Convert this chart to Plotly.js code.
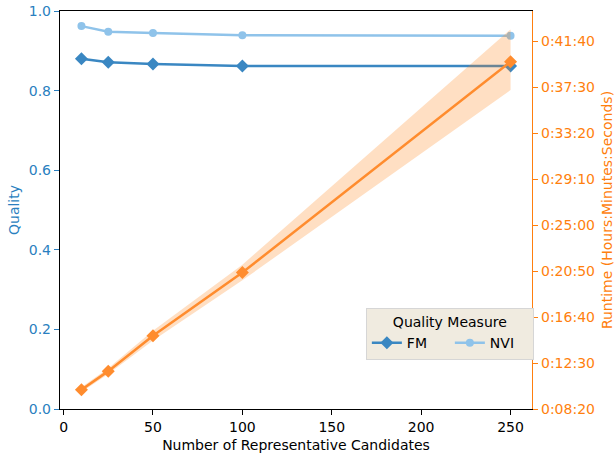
<!DOCTYPE html>
<html><head><meta charset="utf-8">
<script src="https://cdn.plot.ly/plotly-3.0.1.min.js"></script>
<style>body{margin:0}#c{width:615px;height:459px}</style>
</head><body><div id="c"></div>
<script>
const candidates = [10, 25, 50, 100, 250];
const fmQuality = [0.880, 0.871, 0.867, 0.862, 0.862];
const nviQuality = [0.962, 0.948, 0.945, 0.939, 0.938];
const runtimeSec = [605, 706, 898, 1242, 2389];
const runtimeUpper = [618, 722, 925, 1285, 2565];
const runtimeLower = [592, 690, 872, 1200, 2235];
const runtimeTickVals = [500, 750, 1000, 1250, 1500, 1750, 2000, 2250, 2500];
const runtimeTickText = ["0:08:20","0:12:30","0:16:40","0:20:50","0:25:00","0:29:10","0:33:20","0:37:30","0:41:40"];

const blue = '#3a87c2', light = '#8fc3ea', orange = '#ff8c2e', tickBlue = '#2a7fc0', tickOrange = '#ff7f0e';
const font = 'DejaVu Sans, sans-serif';

const traces = [
  {x: candidates, y: runtimeLower, yaxis: 'y2', mode: 'lines', line: {width: 0, color: 'rgba(0,0,0,0)'}, showlegend: false, hoverinfo: 'skip'},
  {x: candidates, y: runtimeUpper, yaxis: 'y2', mode: 'lines', line: {width: 0, color: 'rgba(0,0,0,0)'}, fill: 'tonexty', fillcolor: 'rgba(255,127,14,0.25)', showlegend: false, hoverinfo: 'skip'},
  {x: candidates, y: fmQuality, name: 'FM', mode: 'lines+markers', line: {color: blue, width: 2.5}, marker: {symbol: 'diamond', size: 10, color: blue}},
  {x: candidates, y: nviQuality, name: 'NVI', mode: 'lines+markers', line: {color: light, width: 2.5}, marker: {symbol: 'circle', size: 8, color: light}},
  {x: candidates, y: runtimeSec, yaxis: 'y2', mode: 'lines+markers', showlegend: false, line: {color: orange, width: 2.5}, marker: {symbol: 'diamond', size: 10, color: orange}}
];

const layout = {
  width: 615, height: 459,
  margin: {l: 60, r: 83, t: 11, b: 50},
  paper_bgcolor: 'white', plot_bgcolor: 'white',
  font: {family: font, size: 14, color: '#000'},
  showlegend: true,
  xaxis: {range: [-2, 262], tickvals: [0, 50, 100, 150, 200, 250], showgrid: false, zeroline: false,
    showline: true, linecolor: '#000', linewidth: 1.2, mirror: true, ticks: 'outside', ticklen: 5, tickcolor: '#000',
    title: {text: 'Number of Representative Candidates', font: {size: 14}, standoff: 6}},
  yaxis: {range: [0, 1], tickvals: [0, 0.2, 0.4, 0.6, 0.8, 1.0], ticktext: ['0.0','0.2','0.4','0.6','0.8','1.0'],
    showgrid: false, zeroline: false, showline: true, linecolor: '#000', linewidth: 1.2,
    ticks: 'outside', ticklen: 5, tickcolor: tickBlue, tickfont: {color: tickBlue},
    title: {text: 'Quality', font: {color: tickBlue, size: 14}, standoff: 5}},
  yaxis2: {overlaying: 'y', side: 'right', range: [500, 2665], tickvals: runtimeTickVals, ticktext: runtimeTickText,
    showgrid: false, zeroline: false, showline: true, linecolor: tickOrange, linewidth: 1.2,
    ticks: 'outside', ticklen: 5, tickcolor: tickOrange, tickfont: {color: tickOrange},
    title: {text: 'Runtime (Hours:Minutes:Seconds)', font: {color: tickOrange, size: 14}, standoff: 8}},
  legend: {x: 0.648, y: 0.254, xanchor: 'left', yanchor: 'top', orientation: 'h', traceorder: 'normal',
    bgcolor: '#f0ebe0', bordercolor: '#d6d6d6', borderwidth: 1, entrywidth: 38, tracegroupgap: 0,
    title: {text: 'Quality Measure', side: 'top center', font: {size: 14}},
    font: {size: 14}}
};

Plotly.newPlot('c', traces, layout, {staticPlot: true});
</script></body></html>
